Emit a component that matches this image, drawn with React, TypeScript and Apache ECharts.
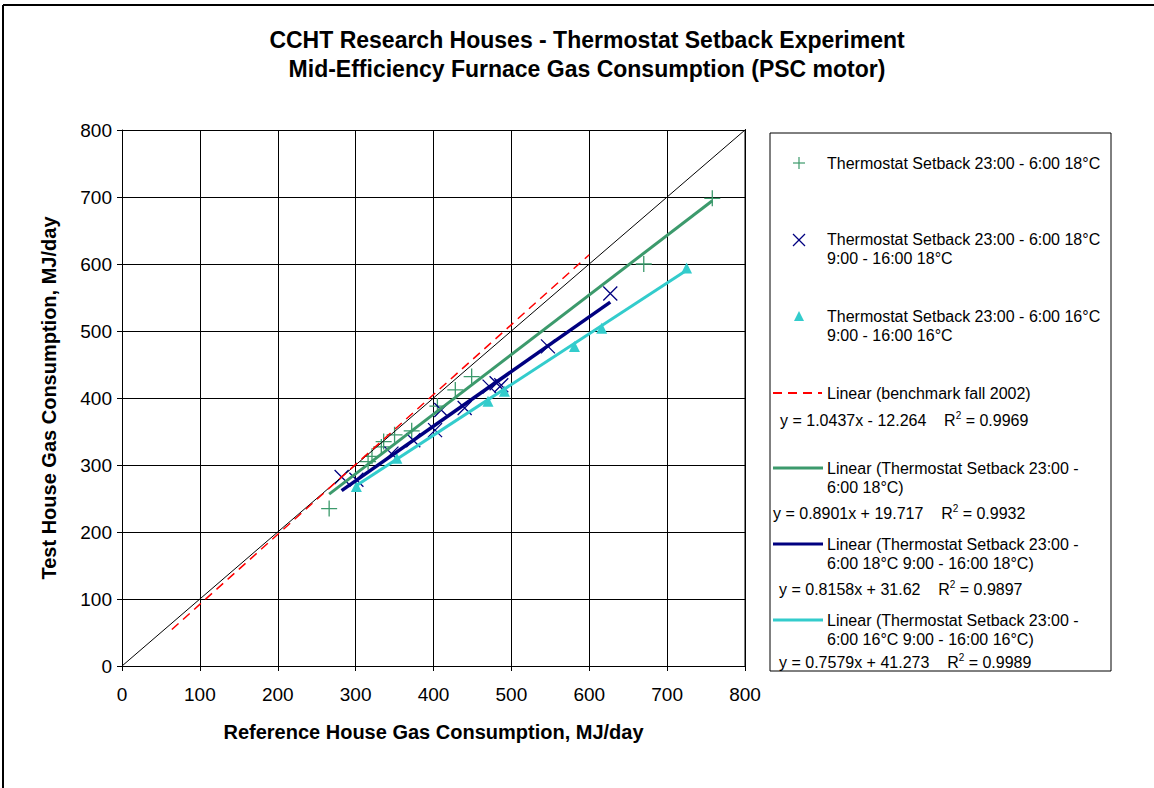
import React, { useEffect, useRef } from "react";
import * as echarts from "echarts";

const xTicks = [0, 100, 200, 300, 400, 500, 600, 700, 800];

const setback18: number[][] = [
  [266, 235], [316, 305], [321, 313], [333, 327], [336, 335], [350, 345],
  [372, 351], [405, 388], [428, 412], [449, 432], [670, 600], [758, 698],
];
const setback18Day18: number[][] = [
  [282, 282], [301, 278], [346, 317], [374, 337], [402, 352], [410, 382],
  [440, 385], [472, 417], [481, 422], [487, 419], [547, 477], [627, 556],
];
const setback16Day16: number[][] = [
  [301, 268], [353, 310], [470, 395], [491, 410], [581, 477], [616, 504], [725, 594],
];

const benchmarkTrend: number[][] = [[64, 54.5], [600, 613.9]];
const trend18: number[][] = [[266, 256.5], [758, 694.4]];
const trend18Day18: number[][] = [[282, 261.7], [627, 543.1]];
const trend16Day16: number[][] = [[301, 269.4], [725, 590.7]];
const equality: number[][] = [[0, 0], [806, 806]];

const legendNames = [
  "Thermostat Setback 23:00 - 6:00 18°C",
  "Thermostat Setback 23:00 - 6:00 18°C\n9:00 - 16:00 18°C",
  "Thermostat Setback 23:00 - 6:00 16°C\n9:00 - 16:00 16°C",
  "Linear (benchmark fall 2002)",
  "Linear (Thermostat Setback 23:00 -\n6:00 18°C)",
  "Linear (Thermostat Setback 23:00 -\n6:00 18°C 9:00 - 16:00 18°C)",
  "Linear (Thermostat Setback 23:00 -\n6:00 16°C 9:00 - 16:00 16°C)",
];
const equations = [
  ["y = 1.0437x - 12.264    R", " = 0.9969"],
  ["y = 0.8901x + 19.717    R", " = 0.9932"],
  ["y = 0.8158x + 31.62    R", " = 0.9897"],
  ["y = 0.7579x + 41.273    R", " = 0.9989"],
];

const GREEN = "#3C9A6C";
const NAVY = "#000080";
const CYAN = "#33CCCC";
const RED = "#FF0000";
const FONT = "'Liberation Sans', Arial, sans-serif";

export default function App() {
  const ref = useRef<HTMLDivElement>(null);
  useEffect(() => {
    if (!ref.current) return;
    const chart = echarts.init(ref.current, undefined, { renderer: "svg" });

    const txt = (x: number, y: number, text: string, extra: any = {}) => ({
      type: "text",
      x,
      y,
      style: {
        text,
        fontSize: 16,
        fontFamily: FONT,
        fill: "#000",
        verticalAlign: "middle",
        lineHeight: 19,
        ...extra,
      },
    });
    const eqText = (x: number, y: number, e: string[]) => ({
      type: "text",
      x,
      y,
      style: {
        text: `{n|${e[0]}}{s|2}{n|${e[1]}}`,
        fontFamily: FONT,
        fill: "#000",
        verticalAlign: "middle",
        rich: {
          n: { fontSize: 16, fontFamily: FONT, color: "#000" },
          s: { fontSize: 10, fontFamily: FONT, color: "#000", padding: [0, 0, 9, 0] },
        },
      },
    });

    const graphic: any[] = [
      { type: "line", shape: { x1: 3, y1: 5, x2: 1154, y2: 5 }, style: { stroke: "#000", lineWidth: 2 } },
      { type: "line", shape: { x1: 3, y1: 5, x2: 3, y2: 788 }, style: { stroke: "#000", lineWidth: 2 } },
      { type: "line", shape: { x1: 745, y1: 130, x2: 745, y2: 666 }, style: { stroke: "#808080", lineWidth: 2 } },
      { type: "rect", shape: { x: 770, y: 133, width: 341, height: 538 }, style: { fill: "#fff", stroke: "#000", lineWidth: 1 } },
      { type: "line", shape: { x1: 793, y1: 163, x2: 805, y2: 163 }, style: { stroke: GREEN, lineWidth: 1.2 } },
      { type: "line", shape: { x1: 799, y1: 157, x2: 799, y2: 169 }, style: { stroke: GREEN, lineWidth: 1.2 } },
      txt(827, 163, legendNames[0]),
      { type: "line", shape: { x1: 793, y1: 234, x2: 805, y2: 246 }, style: { stroke: NAVY, lineWidth: 1.2 } },
      { type: "line", shape: { x1: 805, y1: 234, x2: 793, y2: 246 }, style: { stroke: NAVY, lineWidth: 1.2 } },
      txt(827, 249, legendNames[1]),
      { type: "polygon", shape: { points: [[799, 311], [794, 321], [804, 321]] }, style: { fill: CYAN } },
      txt(827, 326, legendNames[2]),
      { type: "line", shape: { x1: 773, y1: 393, x2: 822, y2: 393 }, style: { stroke: RED, lineWidth: 2, lineDash: [9, 6] } },
      txt(827, 393, legendNames[3]),
      eqText(780, 420, equations[0]),
      { type: "line", shape: { x1: 773, y1: 468, x2: 823, y2: 468 }, style: { stroke: GREEN, lineWidth: 3 } },
      txt(827, 478, legendNames[4]),
      eqText(773, 513, equations[1]),
      { type: "line", shape: { x1: 773, y1: 544, x2: 823, y2: 544 }, style: { stroke: NAVY, lineWidth: 3 } },
      txt(827, 554, legendNames[5]),
      eqText(779, 589, equations[2]),
      { type: "line", shape: { x1: 773, y1: 620, x2: 823, y2: 620 }, style: { stroke: CYAN, lineWidth: 3 } },
      txt(827, 630, legendNames[6]),
      eqText(779, 662, equations[3]),
    ];

    const axisCommon = {
      type: "value",
      min: 0,
      max: 800,
      interval: 100,
      axisLine: { show: true, onZero: false, lineStyle: { color: "#000", width: 1 } },
      axisTick: { show: true, length: 5, lineStyle: { color: "#000" } },
      splitLine: { show: true, lineStyle: { color: "#000", width: 1 } },
      axisLabel: { color: "#000", fontSize: 19, fontFamily: FONT },
      nameLocation: "middle",
      nameTextStyle: { color: "#000", fontSize: 20, fontWeight: "bold", fontFamily: FONT },
    };

    chart.setOption({
      animation: false,
      title: {
        text: "CCHT Research Houses - Thermostat Setback Experiment\nMid-Efficiency Furnace Gas Consumption (PSC motor)",
        left: 582,
        top: 20,
        textAlign: "center",
        textStyle: { fontFamily: FONT, fontWeight: "bold", fontSize: 23, lineHeight: 29, color: "#000" },
      },
      grid: { left: 122, right: 409, top: 130, bottom: 122 },
      xAxis: {
        ...axisCommon,
        axisLabel: { ...axisCommon.axisLabel, margin: 19, formatter: (v: number) => (xTicks.includes(v) ? String(v) : "") },
        name: "Reference House Gas Consumption, MJ/day",
        nameGap: 56,
      },
      yAxis: {
        ...axisCommon,
        axisLabel: { ...axisCommon.axisLabel, margin: 10 },
        name: "Test House Gas Consumption, MJ/day",
        nameGap: 63,
      },
      series: [
        { type: "line", data: equality, showSymbol: false, clip: false, lineStyle: { color: "#000", width: 1 }, silent: true },
        { type: "line", data: benchmarkTrend, showSymbol: false, lineStyle: { color: RED, width: 1.5, type: [9, 6] } },
        { type: "line", data: trend18, showSymbol: false, lineStyle: { color: GREEN, width: 3 } },
        { type: "line", data: trend18Day18, showSymbol: false, lineStyle: { color: NAVY, width: 3.5 } },
        { type: "line", data: trend16Day16, showSymbol: false, lineStyle: { color: CYAN, width: 3 } },
        {
          type: "scatter", data: setback18, symbol: "path://M0,5L10,5M5,0L5,10", symbolSize: 16,
          itemStyle: { color: "transparent", borderColor: GREEN, borderWidth: 1.3, opacity: 1 },
        },
        {
          type: "scatter", data: setback18Day18, symbol: "path://M0,0L10,10M10,0L0,10", symbolSize: 14,
          itemStyle: { color: "transparent", borderColor: NAVY, borderWidth: 1.3, opacity: 1 },
        },
        {
          type: "scatter", data: setback16Day16, symbol: "triangle", symbolSize: 11,
          itemStyle: { color: CYAN, opacity: 1 },
        },
      ],
      graphic,
    });
    return () => chart.dispose();
  }, []);
  return <div ref={ref} style={{ position: "fixed", left: 0, top: 0, width: 1154, height: 788, background: "#fff" }} />;
}
